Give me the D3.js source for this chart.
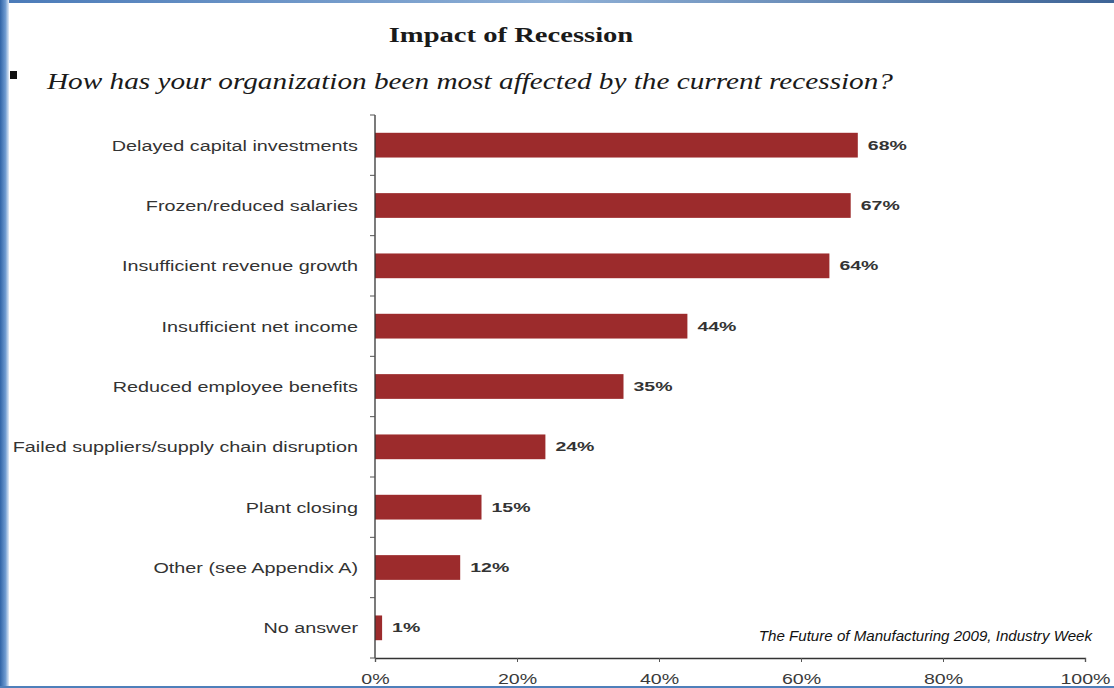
<!DOCTYPE html>
<html>
<head>
<meta charset="utf-8">
<script src="https://cdn.jsdelivr.net/npm/d3@7"></script>
<style>
  html, body { margin: 0; padding: 0; background: #ffffff; }
  svg { display: block; }
</style>
</head>
<body>
<svg id="chart" width="1114" height="688"></svg>
<script>
// Survey responses: how organizations were affected by the recession
const categories = [
  "Delayed capital investments",
  "Frozen/reduced salaries",
  "Insufficient revenue growth",
  "Insufficient net income",
  "Reduced employee benefits",
  "Failed suppliers/supply chain disruption",
  "Plant closing",
  "Other (see Appendix A)",
  "No answer"
];
const values = [68, 67, 64, 44, 35, 24, 15, 12, 1];
const tickValues = [0, 20, 40, 60, 80, 100];

const titleText = "Impact of Recession";
const questionText = "How has your organization been most affected by the current recession?";
const sourceText = "The Future of Manufacturing 2009, Industry Week";

const W = 1114, H = 688;
const svg = d3.select("#chart");
const serif = "Liberation Serif, Times New Roman, serif";
const sans = "Liberation Sans, Arial, sans-serif";

// place a text at (x, y) and widen it horizontally by factor f
function placeWide(sel, xFn, yFn, f) {
  sel.attr("x", 0).attr("y", 0)
     .attr("transform", (d, i) => `translate(${typeof xFn === "function" ? xFn(d, i) : xFn},${typeof yFn === "function" ? yFn(d, i) : yFn}) scale(${f},1)`);
  return sel;
}

// slide frame: blue gradient edges
const defs = svg.append("defs");
const gl = defs.append("linearGradient").attr("id", "leftEdge").attr("x1", 0).attr("x2", 1).attr("y1", 0).attr("y2", 0);
gl.append("stop").attr("offset", 0).attr("stop-color", "#2f63a6");
gl.append("stop").attr("offset", 0.6).attr("stop-color", "#6d9ad0");
gl.append("stop").attr("offset", 1).attr("stop-color", "#e3ecf7");
const gt = defs.append("linearGradient").attr("id", "topEdge").attr("x1", 0).attr("x2", 1).attr("y1", 0).attr("y2", 0);
gt.append("stop").attr("offset", 0).attr("stop-color", "#4a7ab8");
gt.append("stop").attr("offset", 0.5).attr("stop-color", "#8fb0d6");
gt.append("stop").attr("offset", 1).attr("stop-color", "#3e6496");

svg.append("rect").attr("x", 0).attr("y", 0).attr("width", W).attr("height", H).attr("fill", "#ffffff");
svg.append("rect").attr("x", 0).attr("y", 0).attr("width", W).attr("height", 3).attr("fill", "url(#topEdge)");
svg.append("rect").attr("x", 0).attr("y", 0).attr("width", 9).attr("height", H).attr("fill", "url(#leftEdge)");
svg.append("rect").attr("x", 0).attr("y", 686).attr("width", W).attr("height", 2).attr("fill", "#4f7fba");

// title and question
placeWide(svg.append("text")
  .attr("text-anchor", "middle")
  .attr("font-family", serif)
  .attr("font-weight", "bold")
  .attr("font-size", 22)
  .attr("fill", "#1a1a1a")
  .text(titleText), 511, 42, 1.3);

svg.append("rect").attr("x", 10).attr("y", 71).attr("width", 7).attr("height", 8).attr("fill", "#111");

placeWide(svg.append("text")
  .attr("font-family", serif)
  .attr("font-style", "italic")
  .attr("font-size", 22.5)
  .attr("fill", "#1a1a1a")
  .text(questionText), 47, 89, 1.3);

// plotting area
const x = d3.scaleLinear().domain([0, 100]).range([375, 1085]);
const y = d3.scaleBand().domain(categories).range([115, 658]).paddingInner(0.59).paddingOuter(0.295);
const yEdges = d3.scaleLinear().domain([0, categories.length]).range([115, 658]);

// bars
svg.append("g").selectAll("rect")
  .data(categories)
  .join("rect")
  .attr("x", x(0))
  .attr("y", d => y(d))
  .attr("width", (d, i) => x(values[i]) - x(0))
  .attr("height", y.bandwidth())
  .attr("fill", "#9c2b2c");

// value labels
placeWide(svg.append("g").selectAll("text")
  .data(categories)
  .join("text")
  .attr("dy", "0.35em")
  .attr("font-family", sans)
  .attr("font-weight", "bold")
  .attr("font-size", 13)
  .attr("fill", "#333")
  .text((d, i) => values[i] + "%"),
  (d, i) => x(values[i]) + 10, d => y(d) + y.bandwidth() / 2, 1.5);

// y axis: vertical line with ticks at category boundaries
const yAxis = svg.append("g");
yAxis.append("line")
  .attr("x1", x(0)).attr("x2", x(0))
  .attr("y1", yEdges(0)).attr("y2", yEdges(categories.length))
  .attr("stroke", "#333").attr("stroke-width", 1.3);
yAxis.selectAll("line.tick")
  .data(d3.range(categories.length + 1))
  .join("line")
  .attr("class", "tick")
  .attr("x1", x(0) - 5).attr("x2", x(0))
  .attr("y1", d => yEdges(d)).attr("y2", d => yEdges(d))
  .attr("stroke", "#555").attr("stroke-width", 1);

// category labels
placeWide(svg.append("g").selectAll("text")
  .data(categories)
  .join("text")
  .attr("dy", "0.36em")
  .attr("text-anchor", "end")
  .attr("font-family", sans)
  .attr("font-size", 15)
  .attr("fill", "#333")
  .text(d => d),
  358, d => y(d) + y.bandwidth() / 2, 1.32);

// x axis
const xAxis = d3.axisBottom(x)
  .tickValues(tickValues)
  .tickFormat(d => d + "%")
  .tickSize(4)
  .tickPadding(12);
const gx = svg.append("g")
  .attr("transform", `translate(0,${yEdges(categories.length)})`)
  .call(xAxis);
gx.select(".domain").attr("stroke", "#333").attr("stroke-width", 1.3);
gx.selectAll(".tick line").attr("stroke", "#555");
gx.selectAll(".tick text")
  .attr("font-family", sans)
  .attr("font-size", 14)
  .attr("fill", "#3a3a3a")
  .attr("transform", "scale(1.4,1)")
  .attr("x", 0);

// source note
placeWide(svg.append("text")
  .attr("text-anchor", "end")
  .attr("font-family", sans)
  .attr("font-style", "italic")
  .attr("font-size", 14)
  .attr("fill", "#111")
  .text(sourceText), 1092, 641, 1.08);
</script>
</body>
</html>
